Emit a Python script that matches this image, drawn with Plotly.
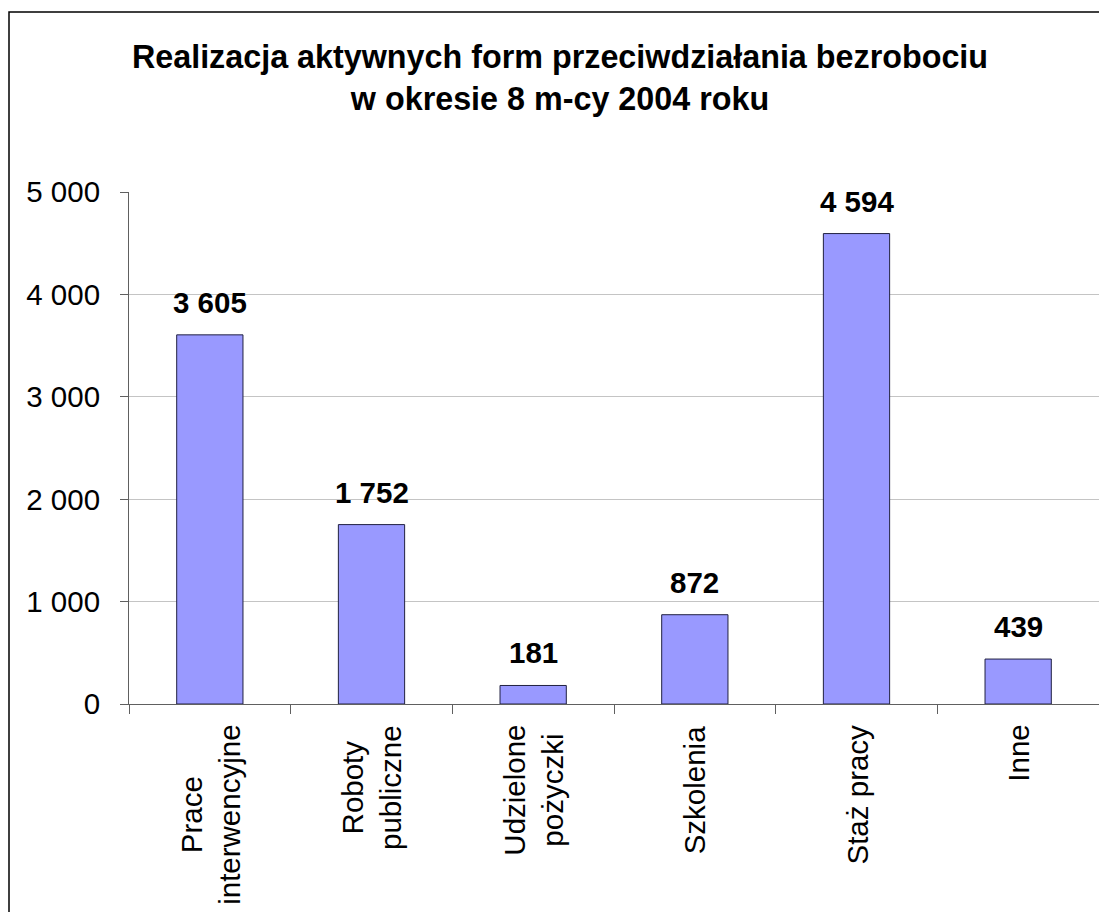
import plotly.graph_objects as go

categories = ["Prace<br>interwencyjne", "Roboty<br>publiczne", "Udzielone<br>pożyczki",
              "Szkolenia", "Staż pracy", "Inne"]
values = [3605, 1752, 181, 872, 4594, 439]
y_ticks = [0, 1000, 2000, 3000, 4000, 5000]
title_lines = ["Realizacja aktywnych form przeciwdziałania bezrobociu",
               "w okresie 8 m-cy 2004 roku"]

W, H = 1099, 912
ML, MT, MB, MR = 129, 192, 208, 0
PW, PH = W - ML - MR, H - MT - MB
FONT = "Arial, Liberation Sans, sans-serif"
FS = 29.5


def fmt(v):
    return f"{v:,}".replace(",", " ")


fig = go.Figure()
fig.add_trace(go.Bar(
    x=categories, y=values, width=0.41,
    marker=dict(color="#9999FF", line=dict(color="#202040", width=1)),
    hoverinfo="x+y",
))

annotations = []
for c, v in zip(categories, values):
    annotations.append(dict(
        x=c, y=v, xref="x", yref="y", text=f"<b>{fmt(v)}</b>", showarrow=False,
        xanchor="center", yanchor="bottom", yshift=14,
        font=dict(family=FONT, size=FS, color="black"),
    ))
    annotations.append(dict(
        x=c, y=0, xref="x", yref="y", text=c, showarrow=False, textangle=-90,
        xanchor="center", yanchor="top", yshift=-19, align="center",
        font=dict(family=FONT, size=FS, color="black"),
    ))

fig.update_layout(
    width=W, height=H,
    margin=dict(l=ML, r=MR, t=MT, b=MB, pad=0),
    paper_bgcolor="white", plot_bgcolor="white",
    separators=", ",
    showlegend=False,
    font=dict(family=FONT, size=FS, color="black"),
    title=dict(
        text=f"<b>{title_lines[0]}<br>{title_lines[1]}</b>",
        x=560 / W, xanchor="center", xref="container",
        y=1 - 68 / H, yanchor="top", yref="container",
        font=dict(family=FONT, size=32.3, color="black"),
    ),
    xaxis=dict(
        showticklabels=False, ticks="outside", tickson="boundaries", ticklen=9,
        tickcolor="#606060", tickwidth=1,
        showline=True, linecolor="#606060", linewidth=1, showgrid=False,
        range=[-0.5, len(categories) - 0.5],
    ),
    yaxis=dict(
        range=[0, 5000], tickvals=y_ticks, tickformat=",d",
        ticks="outside", ticklen=8, tickcolor="#606060", tickwidth=1,
        showline=True, linecolor="#606060", linewidth=1,
        showgrid=True, gridcolor="#c4c4c4", gridwidth=1, zeroline=False,
        ticklabelstandoff=14,
        tickfont=dict(family=FONT, size=FS, color="black"),
    ),
    annotations=annotations,
    shapes=[dict(
        type="rect", xref="paper", yref="paper",
        x0=(9 - ML) / PW, x1=1.05,
        y0=-0.6, y1=(PH + MT - 12) / PH,
        line=dict(color="black", width=1.5), fillcolor="rgba(0,0,0,0)", layer="above",
    )],
)

fig.write_html(
    "out.html",
    config={"displayModeBar": False},
    post_script="document.body.style.margin='0';document.body.style.overflow='hidden';",
)
